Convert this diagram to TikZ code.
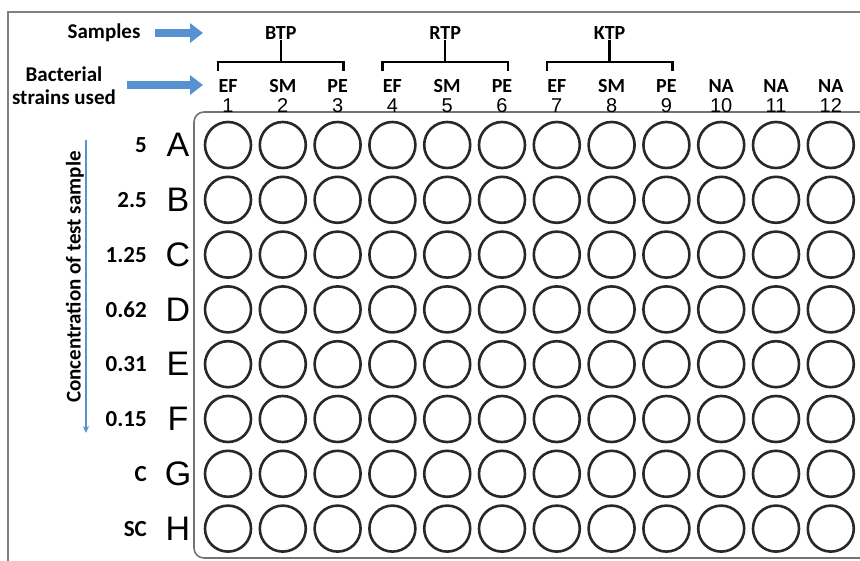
\documentclass[tikz,border=0pt]{standalone}
\usepackage{fontspec}
\setmainfont{Carlito}
\newfontfamily\platefont{Liberation Sans}
\usetikzlibrary{calc,arrows.meta,positioning}
\definecolor{arrowblue}{RGB}{86,146,210}
\definecolor{wellgray}{RGB}{40,40,40}
\tikzset{
    well/.style={circle, draw=wellgray, line width=2.6pt, minimum size=46pt, inner sep=0pt},
    rowletter/.style={font=\platefont\fontsize{34}{34}\selectfont, inner sep=0pt},
    conc/.style={font=\bfseries\fontsize{23}{25}\selectfont, anchor=east, inner sep=0pt},
    strain/.style={font=\bfseries\fontsize{20}{22}\selectfont, anchor=base, inner sep=0pt},
    colnum/.style={font=\platefont\fontsize{20}{22}\selectfont, anchor=base, inner sep=0pt},
    sample/.style={font=\bfseries\fontsize{21}{23}\selectfont, inner sep=0pt},
    bracket/.style={draw, line width=2.3pt},
    blockarrow/.style={draw=arrowblue, line width=7.5pt, -{Triangle[length=13pt,width=19pt]}},
    concarrow/.style={draw=arrowblue, line width=1.8pt, -{Stealth[length=7pt,width=6pt]}}
}

\begin{document}
\begin{tikzpicture}[x=1pt, y=-1pt]
    \useasboundingbox (0,0) rectangle (860,561);
    % frame and plate
    \draw[gray, line width=1.2pt] (8,561) -- (8,12) -- (860,12);
    \draw[gray!90!black, line width=1.6pt, rounded corners=10pt]
        (875,112) -- (194,112) -- (194,558) -- (875,558);

    % wells
    \foreach \r [count=\i] in {A,B,C,D,E,F,G,H} {
        \foreach \c in {1,...,12} {
            \node[well] (well-\r-\c) at ({228+54.8*(\c-1)}, {145+54.8*(\i-1)}) {};
        }
        \node[rowletter] (row-\r) at (178, {145+54.8*(\i-1)}) {\r};
    }

    % concentrations
    \foreach \v [count=\i] in {5,2.5,1.25,0.62,0.31,0.15,C,SC} {
        \node[conc] (conc-\i) at (147, {145+54.8*(\i-1)}) {\v};
    }

    % column numbers and strains
    \foreach \s [count=\c] in {EF,SM,PE,EF,SM,PE,EF,SM,PE,NA,NA,NA} {
        \node[colnum] (col-\c) at ({228+54.8*(\c-1)}, 113) {\c};
        \node[strain] (strain-\c) at ({228+54.8*(\c-1)}, 92.5) {\s};
    }

    % samples and brackets
    \foreach \t/\m/\a/\b in {BTP/2/1/3, RTP/5/4/6, KTP/8/7/9} {
        \node[sample, font=\bfseries\fontsize{20}{22}\selectfont] (sample-\t) at ({228+54.8*(\m-1)-2}, 33) {\t};
        \coordinate (left-\t) at ({228+54.8*(\a-1)-10}, 71);
        \coordinate (right-\t) at ({228+54.8*(\b-1)+6}, 71);
        \draw[bracket] (left-\t) -- ++(0,-9) -| (right-\t);
        \draw[bracket] (sample-\t.south) -- (sample-\t |- 0,62);
    }

    % left labels
    \node[sample] (samples) at (104, 33) {Samples};
    \node[sample, align=center] (strains) at (64, 86) {Bacterial\\strains used};
    \coordinate (samples-tip) at (203, 33);
    \coordinate (strains-tip) at (203, 85);
    \draw[blockarrow] (155,33) -- (samples-tip);
    \draw[blockarrow] (127,85) -- (strains-tip);

    \node[sample, rotate=90] (conc-title) at (75, 277) {Concentration of test sample};
    \coordinate (conc-top) at (86, 140);
    \coordinate (conc-bot) at (86, 433);
    \draw[concarrow] (conc-top) -- (conc-bot);
\end{tikzpicture}
\end{document}
